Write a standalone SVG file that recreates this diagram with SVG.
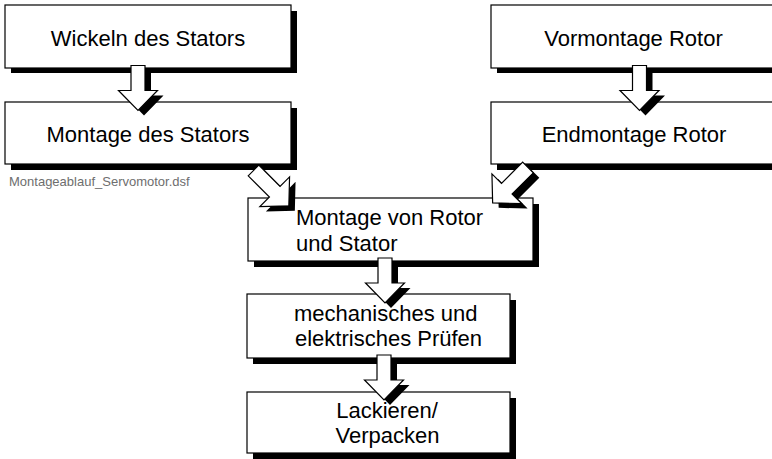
<svg xmlns="http://www.w3.org/2000/svg" xmlns:xlink="http://www.w3.org/1999/xlink" width="772" height="459" viewBox="0 0 772 459">
  <style>
    .box { fill: #ffffff; stroke: #000000; stroke-width: 1.2; }
    .shadow { fill: #000000; stroke: none; }
    .label { font-family: "Liberation Sans", Arial, sans-serif; font-size: 22px; fill: #000000; }
    .mid { text-anchor: middle; }
    .arrow { fill: #ffffff; stroke: #000000; stroke-width: 1.2; stroke-linejoin: miter; }
    .file { font-family: "Liberation Sans", Arial, sans-serif; font-size: 13px; fill: #6e6e6e; }
  </style>
  <defs>
    <!-- block arrow pointing down, tail centre at the origin -->
    <path id="arrowV" d="M-7,0 H7 V25 H19.5 L0,45 L-19.5,25 H-7 Z"/>
    <!-- slightly larger block arrow for the diagonal joins -->
    <path id="arrowD" d="M-7.5,0 H7.5 V30 H21 L0,50 L-21,30 H-7.5 Z"/>
  </defs>

  <rect width="772" height="459" fill="#ffffff"/>

  <g id="wickeln-stator">
    <rect class="shadow" x="11" y="11" width="286" height="62"/>
    <rect class="box" x="5" y="5" width="286" height="63"/>
    <text class="label mid" x="148" y="46">Wickeln des Stators</text>
  </g>

  <g id="montage-stator">
    <rect class="shadow" x="11" y="108" width="286" height="62"/>
    <rect class="box" x="5" y="102" width="286" height="62"/>
    <text class="label mid" x="148" y="141.5">Montage des Stators</text>
  </g>

  <g id="vormontage-rotor">
    <rect class="shadow" x="497" y="11" width="300" height="62"/>
    <rect class="box" x="491" y="5" width="300" height="63"/>
    <text class="label mid" x="633.5" y="46">Vormontage Rotor</text>
  </g>

  <g id="endmontage-rotor">
    <rect class="shadow" x="497" y="108" width="300" height="62"/>
    <rect class="box" x="491" y="102" width="300" height="62"/>
    <text class="label mid" x="634" y="141.5">Endmontage Rotor</text>
  </g>

  <text id="file-name" class="file" x="9" y="186">Montageablauf_Servomotor.dsf</text>

  <g id="montage-rotor-stator">
    <rect class="shadow" x="254" y="204" width="285" height="63"/>
    <rect class="box" x="248" y="198" width="285" height="63"/>
    <text class="label" x="296" y="225">Montage von Rotor</text>
    <text class="label" x="296" y="250.5">und Stator</text>
  </g>

  <g id="pruefen">
    <rect class="shadow" x="253" y="300" width="263" height="64"/>
    <rect class="box" x="247" y="294" width="263" height="64"/>
    <text class="label" x="294" y="320.5">mechanisches und</text>
    <text class="label" x="295" y="345.5">elektrisches Prüfen</text>
  </g>

  <g id="lackieren-verpacken">
    <rect class="shadow" x="253" y="398" width="263" height="61"/>
    <rect class="box" x="247" y="392" width="263" height="61"/>
    <text class="label mid" x="387" y="418">Lackieren/</text>
    <text class="label mid" x="387.5" y="443">Verpacken</text>
  </g>

  <g id="connectors">
    <!-- Wickeln -> Montage des Stators -->
    <use xlink:href="#arrowV" class="shadow" transform="translate(144,70.5)"/>
    <use xlink:href="#arrowV" class="arrow" transform="translate(138,65.5)"/>
    <!-- Vormontage -> Endmontage -->
    <use xlink:href="#arrowV" class="shadow" transform="translate(645.5,70.5)"/>
    <use xlink:href="#arrowV" class="arrow" transform="translate(639.5,65.5)"/>
    <!-- Montage des Stators -> Montage von Rotor und Stator -->
    <use xlink:href="#arrowD" class="shadow" transform="translate(259.5,175.5) rotate(-45)"/>
    <use xlink:href="#arrowD" class="arrow" transform="translate(253.5,170.5) rotate(-45)"/>
    <!-- Endmontage Rotor -> Montage von Rotor und Stator -->
    <use xlink:href="#arrowD" class="shadow" transform="translate(534,172.5) rotate(45)"/>
    <use xlink:href="#arrowD" class="arrow" transform="translate(528,167.5) rotate(45)"/>
    <!-- Montage von Rotor und Stator -> Pruefen -->
    <use xlink:href="#arrowV" class="shadow" transform="translate(391,263)"/>
    <use xlink:href="#arrowV" class="arrow" transform="translate(385,258)"/>
    <!-- Pruefen -> Lackieren/Verpacken -->
    <use xlink:href="#arrowV" class="shadow" transform="translate(390,360)"/>
    <use xlink:href="#arrowV" class="arrow" transform="translate(384,355)"/>
  </g>
</svg>
